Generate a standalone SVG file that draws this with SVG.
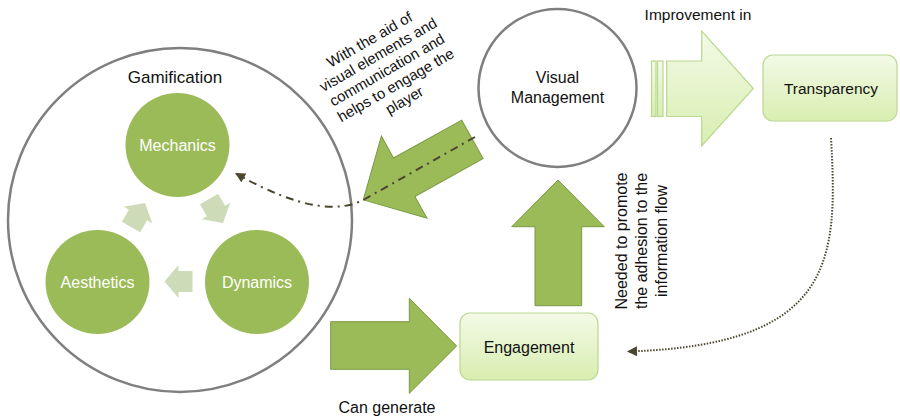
<svg xmlns="http://www.w3.org/2000/svg" width="900" height="417" viewBox="0 0 900 417">
  <defs>
    <linearGradient id="paleGreen" x1="0" y1="0" x2="0" y2="1">
      <stop offset="0" stop-color="#F3FAE7"/>
      <stop offset="1" stop-color="#D8EEB0"/>
    </linearGradient>
    <marker id="headDark" viewBox="0 0 10 10" refX="9" refY="5" markerWidth="12" markerHeight="10" markerUnits="userSpaceOnUse" orient="auto">
      <path d="M0,0 L10,5 L0,10 z" fill="#4B4630"/>
    </marker>
    <path id="cycleArrow" d="M14,0 L0,-16.5 L0,-10.5 L-14,-10.5 L-14,10.5 L0,10.5 L0,16.5 z"/>
    <path id="blockArrow" d="M46.8,0 L0,-47 L0,-22 L-78,-22 L-78,22 L0,22 L0,47 z"/>
  </defs>
  <style>
    text { font-family: "Liberation Sans", Arial, sans-serif; }
    .label { font-size: 16px; fill: #111111; text-anchor: middle; }
    .inner { font-size: 16px; fill: #FFFFFF; text-anchor: middle; }
    .ring { fill: #FFFFFF; stroke: #7F7F7F; stroke-width: 2.5; }
    .disc { fill: #9BBB59; }
    .cycle { fill: #CDDBB8; }
    .bigArrow { fill: #9BBB59; stroke: #7A9A42; stroke-width: 1; }
    .box { fill: url(#paleGreen); stroke: #BAD88F; stroke-width: 1.2; }
    .dashdot { fill: none; stroke: #4B4630; stroke-width: 2; stroke-dasharray: 8 5 2 5; }
    .dotted { fill: none; stroke: #4B4630; stroke-width: 2; stroke-dasharray: 1.5 1.5; }
  </style>

  <rect width="900" height="417" fill="#FFFFFF"/>

  <!-- Gamification container with its three elements -->
  <g id="gamification">
    <circle class="ring" cx="180" cy="220" r="172"/>
    <text x="175" y="83" class="label" style="font-size:17px">Gamification</text>
  </g>
  <g id="mechanics">
    <circle class="disc" cx="177.5" cy="145" r="52"/>
    <text x="177.5" y="151" class="inner">Mechanics</text>
  </g>
  <g id="dynamics">
    <circle class="disc" cx="257" cy="282" r="52"/>
    <text x="257" y="288" class="inner">Dynamics</text>
  </g>
  <g id="aesthetics">
    <circle class="disc" cx="97.5" cy="282" r="52"/>
    <text x="97.5" y="288" class="inner">Aesthetics</text>
  </g>

  <!-- Visual Management -->
  <g id="visual-management">
    <circle class="ring" cx="557.5" cy="88" r="79"/>
    <text x="557.5" y="83" class="label">Visual</text>
    <text x="557.5" y="102.5" class="label">Management</text>
  </g>

  <!-- Transparency -->
  <g id="transparency">
    <rect class="box" x="763" y="55" width="134" height="66" rx="10"/>
    <text x="831" y="94" class="label" style="font-size:15.5px">Transparency</text>
  </g>

  <!-- Engagement -->
  <g id="engagement">
    <rect class="box" x="460" y="313" width="138" height="67" rx="10"/>
    <text x="529" y="352.5" class="label">Engagement</text>
  </g>

  <!-- Connectors -->
  <g id="connectors">
    <!-- cycle inside Gamification -->
    <use href="#cycleArrow" class="cycle" transform="translate(178.5,281.5) rotate(180)"/>
    <use href="#cycleArrow" class="cycle" transform="translate(138,215) rotate(-60)"/>
    <use href="#cycleArrow" class="cycle" transform="translate(216,211) rotate(60)"/>

    <!-- Visual Management towards Gamification -->
    <use href="#blockArrow" class="bigArrow" transform="translate(404.2,177.2) rotate(151)"/>
    <path class="dashdot" d="M475,137 L365,199 C340,213 300,210 236,173.5" marker-end="url(#headDark)"/>
    <g transform="translate(387,70) rotate(-30)">
      <text class="label" style="font-size:15px" x="0" y="-30">With the aid of</text>
      <text class="label" style="font-size:15px" x="0" y="-12.5">visual elements and</text>
      <text class="label" style="font-size:15px" x="0" y="5">communication and</text>
      <text class="label" style="font-size:15px" x="0" y="22.5">helps to engage the</text>
      <text class="label" style="font-size:15px" x="0" y="40">player</text>
    </g>

    <!-- Gamification to Engagement -->
    <path class="bigArrow" d="M330.7,321.7 L409.3,321.7 L409.3,298.3 L456.7,346 L409.3,393.3 L409.3,369.3 L330.7,369.3 z"/>
    <text x="387" y="412.5" class="label">Can generate</text>

    <!-- Engagement to Visual Management -->
    <path class="bigArrow" d="M558,180 L604.3,226.7 L581.7,226.7 L581.7,305.7 L535,305.7 L535,226.7 L511.7,226.7 z"/>
    <g transform="translate(627,241) rotate(-90)">
      <text class="label" x="0" y="0">Needed to promote</text>
      <text class="label" x="0" y="20">the adhesion to the</text>
      <text class="label" x="0" y="39.5">information flow</text>
    </g>

    <!-- Visual Management to Transparency -->
    <rect class="box" x="651.5" y="61" width="4.5" height="55.5" rx="0"/>
    <rect class="box" x="657.5" y="61" width="5.5" height="55.5" rx="0"/>
    <path class="box" d="M666.7,61 L701.7,61 L701.7,31 L753.3,88.5 L701.7,146 L701.7,116.5 L666.7,116.5 z"/>
    <text x="698" y="19.5" class="label" style="font-size:15.5px">Improvement in</text>

    <!-- Transparency back to Engagement -->
    <path class="dotted" d="M831,138 C838,260 835,345 628,351.5" marker-end="url(#headDark)"/>
  </g>
</svg>
